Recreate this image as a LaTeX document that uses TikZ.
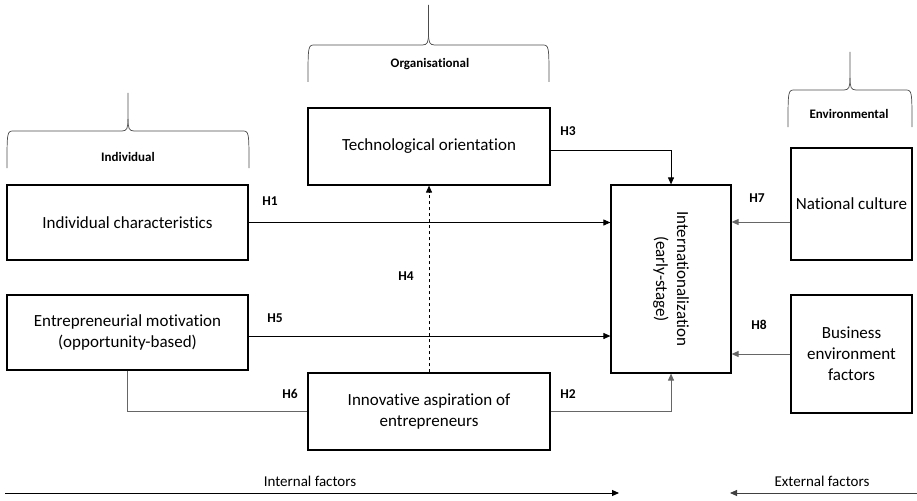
\documentclass[tikz,border=0pt]{standalone}
\usepackage{fontspec}
\setmainfont{Carlito}[Ligatures=NoCommon]
\usetikzlibrary{arrows.meta}
\begin{document}
\begin{tikzpicture}[x=1pt,y=-1pt,
  box/.style={draw,line width=1.2pt,inner sep=0pt,font=\fontsize{17}{21}\selectfont,align=center},
  conn/.style={line width=0.9pt,-{Triangle[length=7pt,width=6pt]}},
  plain/.style={line width=0.9pt},
  hlab/.style={font=\fontsize{13.5}{15}\selectfont\bfseries},
  blab/.style={font=\fontsize{13}{15}\selectfont\bfseries},
  flab/.style={font=\fontsize{15}{17}\selectfont}]
\useasboundingbox (0,0) rectangle (917,500);
% boxes
\node[box,minimum width=241pt,minimum height=75pt] (ic) at (127.5,222.5) {Individual characteristics};
\node[box,minimum width=241pt,minimum height=75pt] (em) at (127.5,332.5) {Entrepreneurial motivation\\(opportunity-based)};
\node[box,minimum width=242pt,minimum height=77pt] (to) at (429,146.5) {\raisebox{-3pt}{Technological orientation}};
\node[box,minimum width=242pt,minimum height=77pt] (ia) at (429,411.5) {Innovative aspiration of\\entrepreneurs};
\node[box,minimum width=120pt,minimum height=188pt] (in) at (671,279) {};
\node[font=\fontsize{17}{21}\selectfont,align=center,rotate=-90] (intext) at (in.center) {Internationalization\\(early-stage)};
\node[box,minimum width=121pt,minimum height=112pt] (nc) at (851.5,204) {National culture};
\node[box,minimum width=121pt,minimum height=118pt] (be) at (851.5,354) {Business\\environment\\factors};
% connectors
\draw[conn] (ic.east) -- (ic.east -| in.west);
\draw[conn] (em.east |- 0,336) -- (in.west |- 0,336);
\draw[conn] (to.east |- 0,150) -| (in.north);
\draw[conn,black!60] (ia.east) -| (in.south);
\draw[conn,dashed] (ia.north) -- (to.south);
\draw[plain,black!60] (em.south) |- (ia.west);
\draw[conn,black!60] (nc.west |- 0,222) -- (in.east |- 0,222);
\draw[conn,black!60] (be.west) -- (in.east |- be.west);
% H labels
\node[hlab] (h1) at (270,201) {H1};
\node[hlab] (h5) at (275,318) {H5};
\node[hlab] (h3) at (568,131) {H3};
\node[hlab] (h4) at (406,276) {H4};
\node[hlab] (h6) at (290,394) {H6};
\node[hlab] (h2) at (568,394) {H2};
\node[hlab] (h7) at (757,198) {H7};
\node[hlab] (h8) at (759,325) {H8};
% braces
\def\brace#1#2#3#4#5{% x1, x2, yh, ytip, ybottom
  \pgfmathsetmacro\cx{(#1+#2)/2}
  \draw[line width=0.7pt,black!70] (#1,#5) .. controls (#1,#3) .. (#1+7,#3) -- (\cx-6,#3)
     .. controls (\cx-1,#3) and (\cx,#3-3) .. (\cx,#3-12) -- (\cx,#4);
  \draw[line width=0.7pt,black!70] (#2,#5) .. controls (#2,#3) .. (#2-7,#3) -- (\cx+6,#3)
     .. controls (\cx+1,#3) and (\cx,#3-3) .. (\cx,#3-12);
}
\brace{7}{249}{131}{93}{168}
\brace{308}{549}{45}{5}{82}
\brace{788}{912}{90}{52}{127}
\node[blab] (bi) at (128,157) {Individual};
\node[blab] (bo) at (430,64) {Organisational};
\node[blab] (be2) at (849,114) {Environmental};
% bottom arrows
\coordinate (a1) at (5,493);
\coordinate (a2) at (619,493);
\coordinate (b1) at (917,493);
\coordinate (b2) at (730,493);
\draw[conn] (a1) -- (a2);
\draw[conn,black!75] (b1) -- (b2);
\node[flab] (il) at (310,481) {Internal factors};
\node[flab] (el) at (822,481) {External factors};
\end{tikzpicture}
\end{document}
